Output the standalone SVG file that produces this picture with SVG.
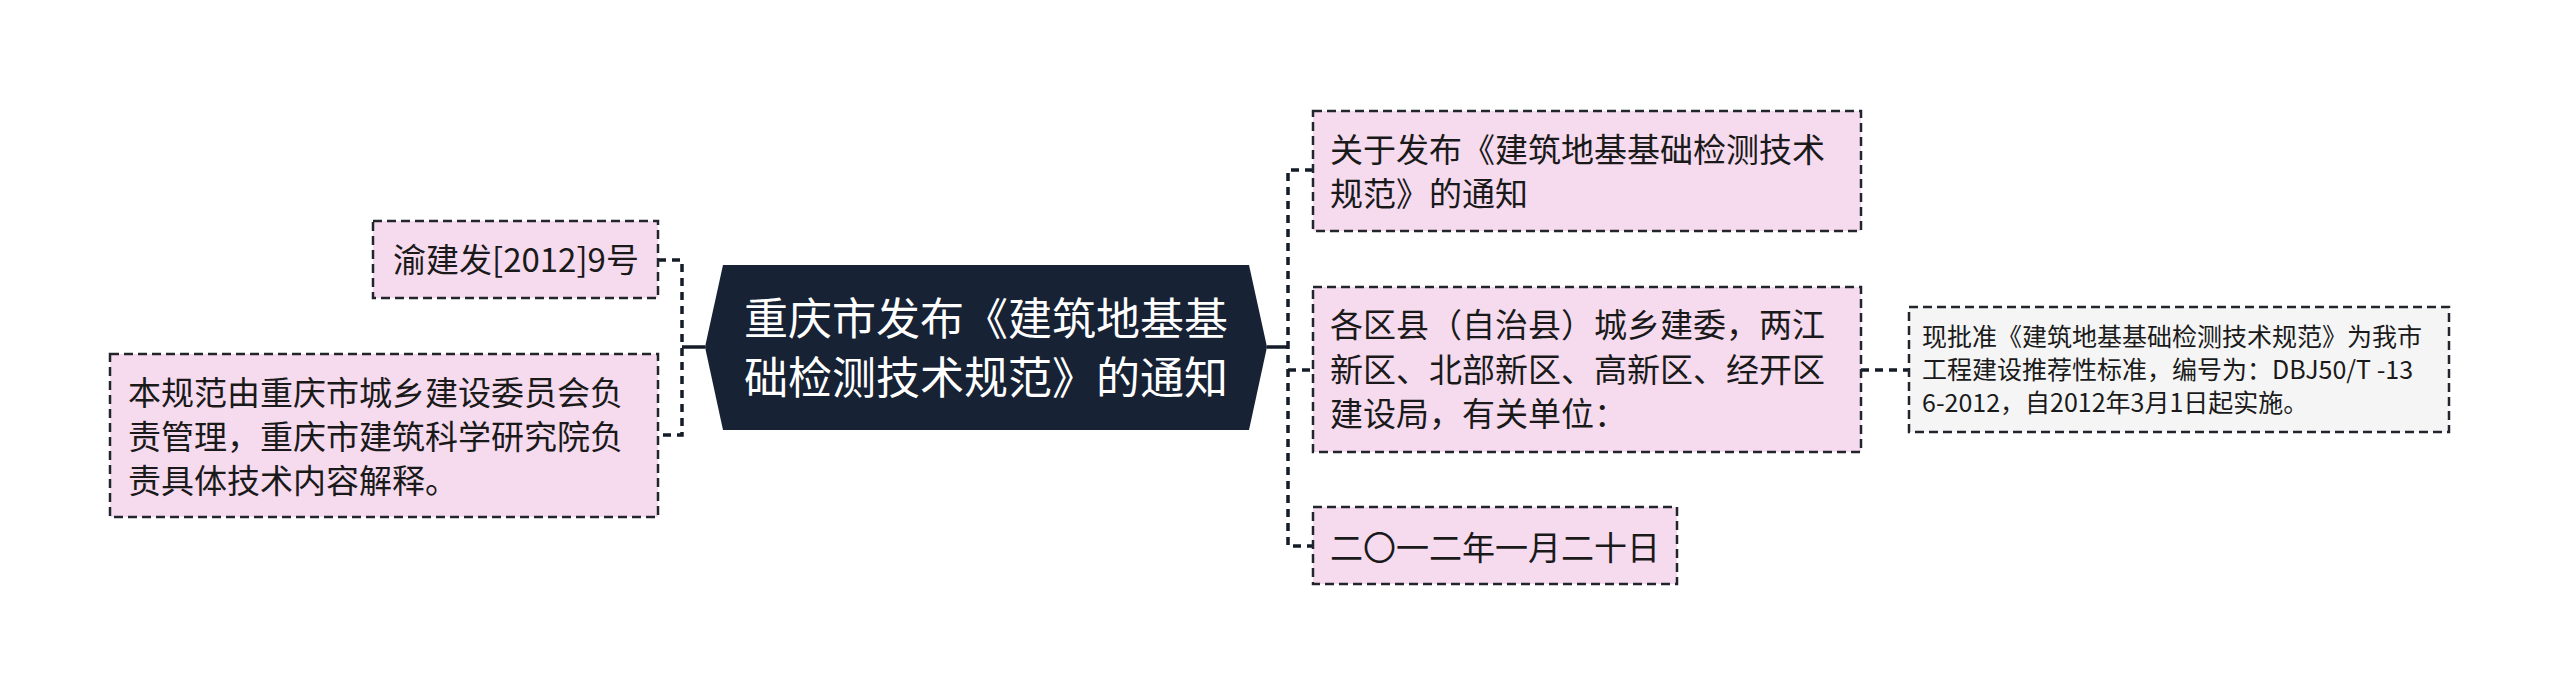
<svg xmlns="http://www.w3.org/2000/svg" width="2560" height="695" viewBox="0 0 2560 695">
<style>
.t{font-family:"Noto Sans CJK SC","Noto Sans",sans-serif;fill:#1a1a1a}
.pink{fill:#f6dbef;stroke:#22252c;stroke-width:2.5;stroke-dasharray:9 5}
.grey{fill:#f5f5f5;stroke:#22252c;stroke-width:2.5;stroke-dasharray:9 5}
.c{fill:none;stroke:#151c28;stroke-width:3.5;stroke-dasharray:8 6}
.cs{fill:none;stroke:#151c28;stroke-width:3.5}
</style>
<rect width="2560" height="695" fill="#ffffff"/>
<g id="connectors">
<path class="cs" d="M705,347 H682"/>
<path class="c" d="M658,260 H682 V435 H658"/>
<path class="cs" d="M1267,347 H1288"/>
<path class="c" d="M1313,170 H1288 V546 H1313"/>
<path class="c" d="M1288,370 H1313"/>
<path class="c" d="M1861,370 H1909"/>
</g>
<g id="center">
<polygon points="723,265 1249,265 1267,347 1249,430 723,430 705,347" fill="#172234"/>
<text class="t" style="fill:#ffffff" font-size="44" text-anchor="middle"><tspan x="986" y="335">重庆市发布《建筑地基基</tspan><tspan x="986" y="394">础检测技术规范》的通知</tspan></text>
</g>
<g id="n-left-1">
<rect class="pink" x="373" y="221" width="285" height="77"/>
<text class="t" font-size="33" x="393" y="272">渝建发[2012]9号</text>
</g>
<g id="n-left-2">
<rect class="pink" x="110" y="354" width="548" height="163"/>
<text class="t" font-size="33"><tspan x="128" y="404.5">本规范由重庆市城乡建设委员会负</tspan><tspan x="128" y="448.5">责管理，重庆市建筑科学研究院负</tspan><tspan x="128" y="492.5">责具体技术内容解释。</tspan></text>
</g>
<g id="n-right-1">
<rect class="pink" x="1313" y="111" width="548" height="120"/>
<text class="t" font-size="33"><tspan x="1330" y="161.5">关于发布《建筑地基基础检测技术</tspan><tspan x="1330" y="206">规范》的通知</tspan></text>
</g>
<g id="n-right-2">
<rect class="pink" x="1313" y="287" width="548" height="165"/>
<text class="t" font-size="33"><tspan x="1330" y="336.5">各区县（自治县）城乡建委，两江</tspan><tspan x="1330" y="381.5">新区、北部新区、高新区、经开区</tspan><tspan x="1330" y="426">建设局，有关单位：</tspan></text>
</g>
<g id="n-right-3">
<rect class="pink" x="1313" y="507" width="364" height="77"/>
<text class="t" font-size="33" x="1330" y="559.5">二〇一二年一月二十日</text>
</g>
<g id="n-far-right">
<rect class="grey" x="1909" y="307" width="540" height="125"/>
<text class="t" font-size="25"><tspan x="1922" y="345.5">现批准《建筑地基基础检测技术规范》为我市</tspan><tspan x="1922" y="379">工程建设推荐性标准，编号为：DBJ50/T -13</tspan><tspan x="1922" y="412">6-2012，自2012年3月1日起实施。</tspan></text>
</g>
</svg>
